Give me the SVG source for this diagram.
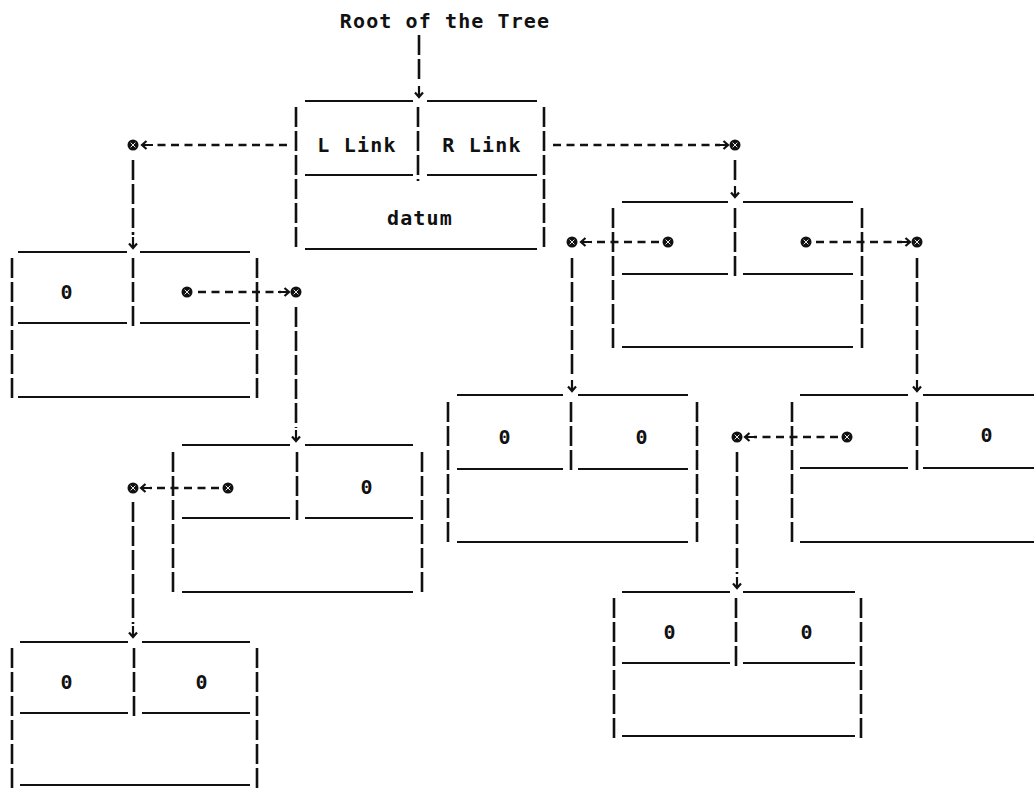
<svg xmlns="http://www.w3.org/2000/svg" width="1034" height="791" viewBox="0 0 1034 791">
  <style>
    .bar  { stroke:#111; stroke-width:2.6; stroke-dasharray:20 4; fill:none; }
    .rule { stroke:#111; stroke-width:2; fill:none; }
    .dash { stroke:#111; stroke-width:2.4; stroke-dasharray:8 5.5; fill:none; }
    .lbl  { font-family:"DejaVu Sans Mono","Liberation Mono",monospace; font-weight:bold; font-size:20px; letter-spacing:1.2px; text-anchor:middle; fill:#111; }
    .ttl  { font-size:20px; letter-spacing:1.1px; }
  </style>
  <defs>
    <!-- down-pointing arrow glyph, tip at the origin -->
    <path id="arr" d="M0,-11 V0 M-4,-4.5 L0,0 L4,-4.5" stroke="#111" stroke-width="2.2" fill="none" stroke-linejoin="miter"/>
    <!-- pointer dot -->
    <g id="pt">
      <circle r="5.5" fill="#111"/>
      <path d="M-2.4,-2.4 L2.4,2.4 M2.4,-2.4 L-2.4,2.4" stroke="#fff" stroke-width="0.9"/>
    </g>
  </defs>
  <rect width="1034" height="791" fill="#fff"/>

  <text class="lbl ttl" x="445" y="28">Root of the Tree</text>

  <!-- root record -->
  <g id="node-root">
    <path class="rule" d="M305,101H413 M427,101H537 M305,175H413 M427,175H537 M305,249H537"/>
    <path class="bar" d="M296,107V251 M418,107V181 M544,107V251"/>
    <text class="lbl" x="357" y="152">L Link</text>
    <text class="lbl" x="482" y="152">R Link</text>
    <text class="lbl" x="420" y="225">datum</text>
  </g>

  <g id="node-a">
    <path class="rule" d="M18,252H127 M140,252H250 M18,323H127 M140,323H250 M18,397H250"/>
    <path class="bar" d="M12,258V402 M133,258V330 M257,258V402"/>
    <text class="lbl" x="67" y="299">0</text>
  </g>

  <g id="node-b">
    <path class="rule" d="M622,202H728 M743,202H853 M622,274H728 M743,274H853 M622,347H853"/>
    <path class="bar" d="M613,208V352 M735,208V280 M862,208V352"/>
  </g>

  <g id="node-c">
    <path class="rule" d="M182,445H290 M305,445H413 M182,518H290 M305,518H413 M182,592H413"/>
    <path class="bar" d="M173,452V596 M297,452V524 M422,452V596"/>
    <text class="lbl" x="367" y="494">0</text>
  </g>

  <g id="node-d">
    <path class="rule" d="M20,642H128 M142,642H250 M20,713H128 M142,713H250 M20,785H250"/>
    <path class="bar" d="M12,648V792 M134,648V720 M257,648V792"/>
    <text class="lbl" x="67" y="689">0</text>
    <text class="lbl" x="202" y="689">0</text>
  </g>

  <g id="node-e">
    <path class="rule" d="M457,395H563 M578,395H688 M457,469H563 M578,469H688 M457,542H688"/>
    <path class="bar" d="M448,402V546 M571,402V474 M697,402V546"/>
    <text class="lbl" x="505" y="444">0</text>
    <text class="lbl" x="642" y="444">0</text>
  </g>

  <g id="node-f">
    <path class="rule" d="M800,395H908 M923,395H1034 M800,468H908 M923,468H1034 M800,542H1034"/>
    <path class="bar" d="M792,402V546 M917,402V474"/>
    <text class="lbl" x="987" y="442">0</text>
  </g>

  <g id="node-g">
    <path class="rule" d="M622,592H730 M743,592H855 M622,663H730 M743,663H855 M622,736H855"/>
    <path class="bar" d="M614,598V742 M736,598V670 M861,598V742"/>
    <text class="lbl" x="670" y="639">0</text>
    <text class="lbl" x="807" y="639">0</text>
  </g>

  <!-- link pointers -->
  <g id="connectors">
    <!-- root entry -->
    <path class="bar" d="M419,35V83"/>
    <use href="#arr" x="419" y="97"/>

    <!-- root L Link -> node-a -->
    <path class="dash" d="M287,145H152"/>
    <use href="#arr" transform="translate(142,145) rotate(90)"/>
    <use href="#pt" x="133" y="145"/>
    <path class="bar" d="M133,160V235"/>
    <use href="#arr" x="133" y="248"/>

    <!-- root R Link -> node-b -->
    <path class="dash" d="M553,145H720"/>
    <use href="#arr" transform="translate(728,145) rotate(-90)"/>
    <use href="#pt" x="735" y="145"/>
    <path class="bar" d="M735,160V184"/>
    <use href="#arr" x="735" y="197"/>

    <!-- node-a R -> node-c -->
    <use href="#pt" x="187" y="292"/>
    <path class="dash" d="M198,292H281"/>
    <use href="#arr" transform="translate(289,292) rotate(-90)"/>
    <use href="#pt" x="296" y="292"/>
    <path class="bar" d="M296,307V428"/>
    <use href="#arr" x="296" y="441"/>

    <!-- node-c L -> node-d -->
    <use href="#pt" x="228" y="488"/>
    <path class="dash" d="M219,488H150"/>
    <use href="#arr" transform="translate(141,488) rotate(90)"/>
    <use href="#pt" x="133" y="488"/>
    <path class="bar" d="M133,502V624"/>
    <use href="#arr" x="133" y="637"/>

    <!-- node-b L -> node-e -->
    <use href="#pt" x="668" y="242"/>
    <path class="dash" d="M659,242H591"/>
    <use href="#arr" transform="translate(581,242) rotate(90)"/>
    <use href="#pt" x="572" y="242"/>
    <path class="bar" d="M572,258V378"/>
    <use href="#arr" x="572" y="391"/>

    <!-- node-b R -> node-f -->
    <use href="#pt" x="806" y="242"/>
    <path class="dash" d="M816,242H902"/>
    <use href="#arr" transform="translate(910,242) rotate(-90)"/>
    <use href="#pt" x="917" y="242"/>
    <path class="bar" d="M917,258V378"/>
    <use href="#arr" x="917" y="391"/>

    <!-- node-f L -> node-g -->
    <use href="#pt" x="847" y="437"/>
    <path class="dash" d="M838,437H754"/>
    <use href="#arr" transform="translate(745,437) rotate(90)"/>
    <use href="#pt" x="737" y="437"/>
    <path class="bar" d="M737,452V574"/>
    <use href="#arr" x="737" y="588"/>
  </g>
</svg>
